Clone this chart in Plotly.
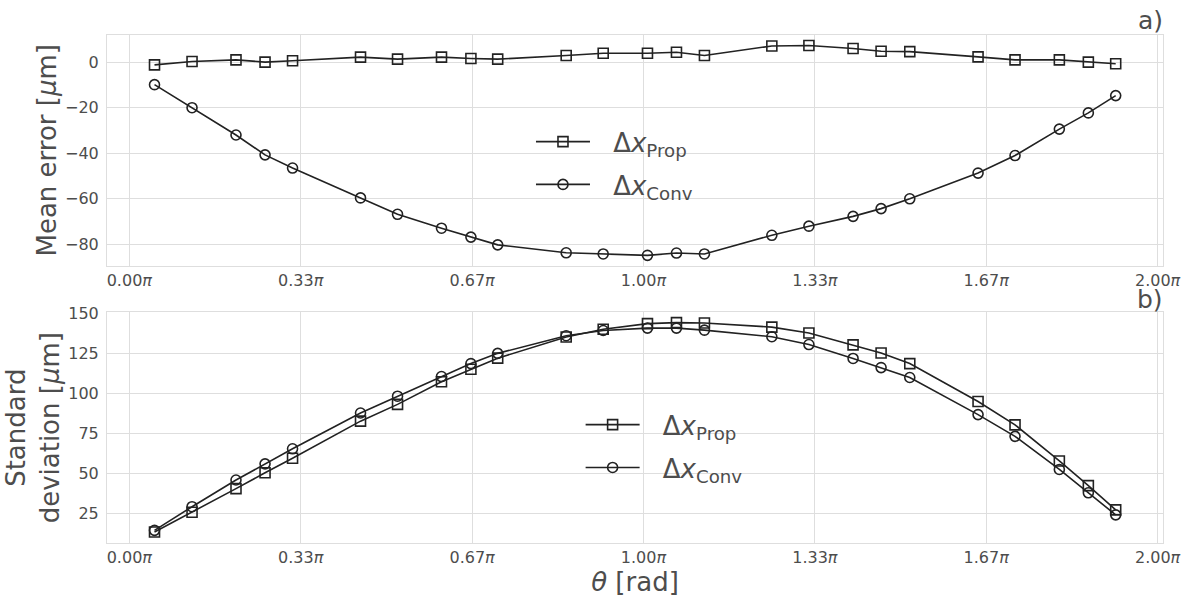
import plotly.graph_objects as go

# theta in units of pi
theta_pi = [0.049, 0.122, 0.2075, 0.264, 0.3175, 0.4497, 0.5217, 0.6072, 0.6644, 0.7165,
            0.8497, 0.9217, 1.0078, 1.0642, 1.1186, 1.2497, 1.3218, 1.4077, 1.4622, 1.518,
            1.6508, 1.7227, 1.8089, 1.8653, 1.9185]

mean_prop = [-1.2, 0.3, 1.0, 0.0, 0.6, 2.2, 1.3, 2.2, 1.6, 1.3,
             2.9, 3.9, 3.9, 4.3, 2.9, 7.1, 7.3, 6.0, 4.8, 4.6,
             2.3, 1.0, 1.0, 0.0, -0.7]
mean_conv = [-9.9, -20.0, -32.0, -40.7, -46.5, -59.6, -66.8, -72.9, -76.8, -80.2,
             -83.7, -84.2, -84.8, -83.8, -84.2, -76.0, -72.0, -67.7, -64.3, -60.0,
             -48.7, -41.0, -29.4, -22.3, -14.7]

std_prop = [13.3, 25.6, 40.4, 50.3, 59.4, 82.6, 93.1, 107.2, 115.1, 122.0,
            135.2, 140.1, 143.6, 144.2, 144.0, 141.4, 137.7, 130.3, 125.2, 118.6,
            94.9, 80.3, 57.7, 42.3, 27.1]
std_conv = [14.3, 29.1, 45.8, 55.9, 65.3, 87.7, 98.2, 110.5, 118.6, 125.0,
            136.0, 139.3, 140.8, 140.8, 139.5, 135.4, 130.5, 121.8, 116.1, 109.9,
            86.7, 73.1, 52.4, 37.8, 24.0]

tick_vals = [0, 1/3, 2/3, 1, 4/3, 5/3, 2]
tick_text = ["0.00<i>π</i>", "0.33<i>π</i>", "0.67<i>π</i>", "1.00<i>π</i>",
             "1.33<i>π</i>", "1.67<i>π</i>", "2.00<i>π</i>"]

name_prop = "\u2002\u2009Δ<i>x</i><sub>Prop</sub>"
name_conv = "\u2002\u2009Δ<i>x</i><sub>Conv</sub>"

FONT = "DejaVu Sans"
TXT = "#4d4d4d"
LINE = "#222222"
GRID = "#dedede"

fig = go.Figure()

def add(x, y, name, symbol, xa, ya, legend, group):
    fig.add_trace(go.Scatter(
        x=x, y=y, name=name, mode="lines+markers", xaxis=xa, yaxis=ya, legend=legend,
        legendgroup=group,
        line=dict(color=LINE, width=1.6),
        marker=dict(symbol=symbol, size=10, color=LINE, line=dict(width=1.6, color=LINE)),
    ))

add(theta_pi, mean_prop, name_prop, "square-open", "x", "y", "legend", "a1")
add(theta_pi, mean_conv, name_conv, "circle-open", "x", "y", "legend", "a2")
add(theta_pi, std_prop, name_prop, "square-open", "x2", "y2", "legend2", "b1")
add(theta_pi, std_conv, name_conv, "circle-open", "x2", "y2", "legend2", "b2")

xcommon = dict(range=[-0.0434, 2.0105], tickvals=tick_vals, ticktext=tick_text,
               showgrid=True, gridcolor=GRID, gridwidth=1, zeroline=False,
               showline=True, mirror=True, linecolor=GRID, linewidth=1,
               ticks="", tickfont=dict(family=FONT, size=16, color=TXT))
ycommon = dict(showgrid=True, gridcolor=GRID, gridwidth=1, zeroline=False,
               showline=True, mirror=True, linecolor=GRID, linewidth=1,
               ticks="", tickfont=dict(family=FONT, size=16, color=TXT),
               ticklabelstandoff=4)

legcommon = dict(font=dict(family=FONT, size=26, color=TXT), bgcolor="rgba(0,0,0,0)",
                 itemwidth=54, xanchor="left", yanchor="top", tracegroupgap=6,
                 traceorder="grouped")

fig.update_layout(
    width=1199, height=599,
    margin=dict(l=107, r=36, t=35, b=51),
    paper_bgcolor="white", plot_bgcolor="white",
    font=dict(family=FONT, color=TXT),
    xaxis=dict(domain=[0, 1], anchor="y", **xcommon),
    xaxis2=dict(domain=[0, 1], anchor="y2",
                title=dict(text="<i>θ</i> [rad]", font=dict(family=FONT, size=26, color=TXT), standoff=2),
                **xcommon),
    yaxis=dict(domain=[0.5461, 1], anchor="x", range=[-89.3, 11.9], dtick=20,
               title=dict(text="Mean error [<i>μ</i>m]", font=dict(family=FONT, size=26, color=TXT), standoff=0),
               **ycommon),
    yaxis2=dict(domain=[0, 0.4539], anchor="x2", range=[6.4, 150.6], tickvals=[25, 50, 75, 100, 125, 150],
                title=dict(text="Standard<br>deviation [<i>μ</i>m]", font=dict(family=FONT, size=26, color=TXT), standoff=1),
                **ycommon),
    legend=dict(x=0.4015, y=0.8362, **legcommon),
    legend2=dict(x=0.4485, y=0.279, **legcommon),
    showlegend=True,
)

for txt, yref, xref, ys in [("a)", "y domain", "x domain", -2), ("b)", "y2 domain", "x2 domain", -4)]:
    fig.add_annotation(text=txt, xref=xref, yref=yref, x=1, y=1, xanchor="right", yanchor="bottom",
                       showarrow=False, font=dict(family=FONT, size=25, color=TXT), xshift=2, yshift=ys)

fig.write_html("out.html")
